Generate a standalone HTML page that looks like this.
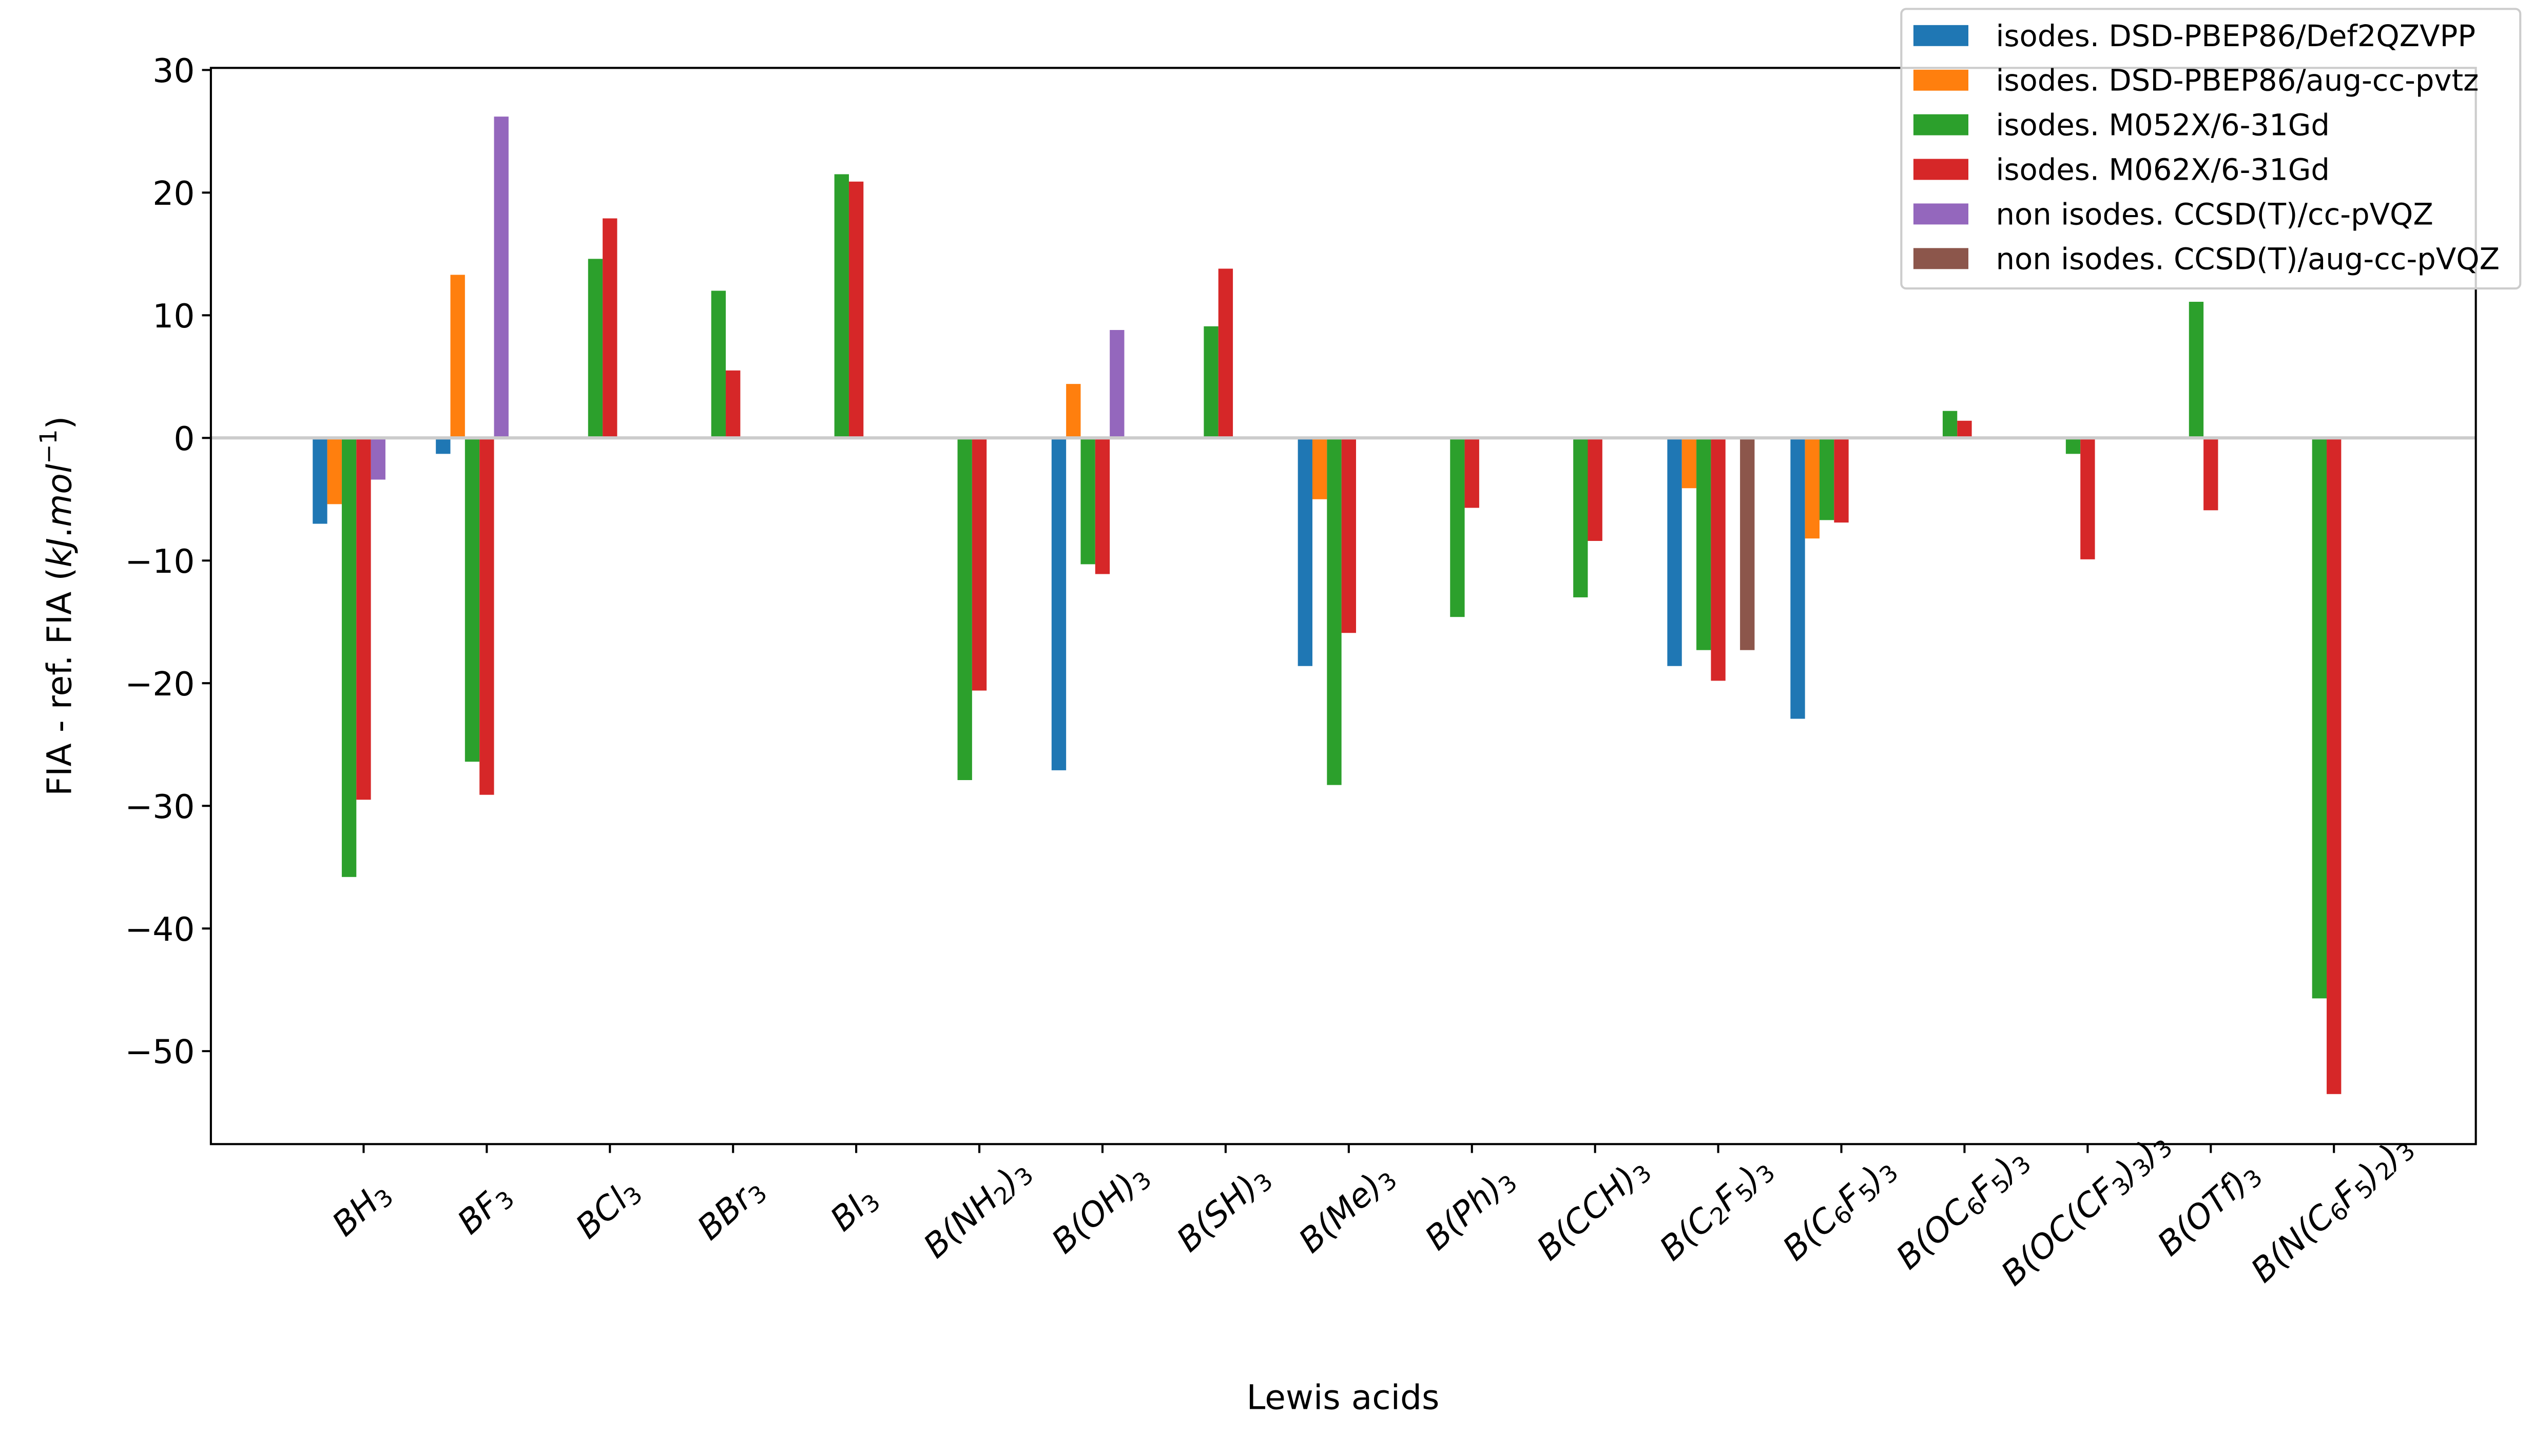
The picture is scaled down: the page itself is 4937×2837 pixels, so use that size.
<!DOCTYPE html>
<html><head><meta charset="utf-8"><style>
html,body{margin:0;padding:0;background:#fff;}
svg{display:block;}
text{font-family:"DejaVu Sans","Liberation Sans",sans-serif;fill:#000;}
</style></head><body>
<svg id="chart" width="4937" height="2837" viewBox="0 0 1568 901" xmlns="http://www.w3.org/2000/svg">
<rect x="0" y="0" width="1568" height="901" fill="#fff"/>
<g id="bars"></g>
<line x1="130.5" x2="1532" y1="271" y2="271" stroke="#cccccc" stroke-width="2" id="zeroline"/>
<rect x="130.5" y="42" width="1401.5" height="666" fill="none" stroke="#000" stroke-width="1.3"/>
<g id="yticks"></g>
<g id="xticks"></g>
<text x="831" y="872" font-size="21" text-anchor="middle">Lewis acids</text>
<text transform="translate(44,375) rotate(-90)" font-size="21" text-anchor="middle">FIA - ref. FIA (<tspan font-style="italic">kJ</tspan>.<tspan font-style="italic">mol</tspan><tspan font-size="14.5" dy="-9">−1</tspan><tspan dy="9">)</tspan></text>
<g id="legend"></g>
</svg>
<script>
const categories = ["BH|3","BF|3","BCl|3","BBr|3","BI|3","B(NH|2|)|3","B(OH)|3","B(SH)|3","B(Me)|3","B(Ph)|3","B(CCH)|3","B(C|2|F|5|)|3","B(C|6|F|5|)|3","B(OC|6|F|5|)|3","B(OC(CF|3|)|3|)|3","B(OTf)|3","B(N(C|6|F|5|)|2|)|3"];
const seriesNames = ["isodes. DSD-PBEP86/Def2QZVPP","isodes. DSD-PBEP86/aug-cc-pvtz","isodes. M052X/6-31Gd","isodes. M062X/6-31Gd","non isodes. CCSD(T)/cc-pVQZ","non isodes. CCSD(T)/aug-cc-pVQZ"];
const seriesColors = ["#1f77b4","#ff7f0e","#2ca02c","#d62728","#9467bd","#8c564b"];
const dsdDef2 = [-7.0,-1.3,null,null,null,null,-27.1,null,-18.6,null,null,-18.6,-22.9,null,null,null,null];
const dsdAug = [-5.4,13.3,null,null,null,null,4.4,null,-5.0,null,null,-4.1,-8.2,null,null,null,null];
const m052x = [-35.8,-26.4,14.6,12.0,21.5,-27.9,-10.3,9.1,-28.3,-14.6,-13.0,-17.3,-6.7,2.2,-1.3,11.1,-45.7];
const m062x = [-29.5,-29.1,17.9,5.5,20.9,-20.6,-11.1,13.8,-15.9,-5.7,-8.4,-19.8,-6.9,1.4,-9.9,-5.9,-53.5];
const ccsdVQZ = [-3.4,26.2,null,null,null,null,8.8,null,null,null,null,null,null,null,null,null,null];
const ccsdAugVQZ = [null,null,null,null,null,null,null,null,null,null,null,-17.3,null,null,null,null,null];
const yTicks = [30,20,10,0,-10,-20,-30,-40,-50];

const NS="http://www.w3.org/2000/svg";
const series=[dsdDef2,dsdAug,m052x,m062x,ccsdVQZ,ccsdAugVQZ];
const X0=130.5,X1=1532,Y0=42,Y1=708;
const yMin=-57.58,yMax=30.17;
function yScale(v){return Y1-(v-yMin)/(yMax-yMin)*(Y1-Y0);}
const step=76.2, first=225;
function xScale(i){return first+i*step;}
const barW=9;
function mk(tag,attrs,parent){const e=document.createElementNS(NS,tag);for(const k in attrs)e.setAttribute(k,attrs[k]);parent.appendChild(e);return e;}

const gb=document.getElementById('bars');
series.forEach((s,k)=>{
  s.forEach((v,i)=>{
    if(v===null)return;
    const cx=xScale(i)+(k-3)*barW;
    const y0=yScale(0),y=yScale(v);
    const r=mk('rect',{x:cx-barW/2,y:Math.min(y0,y),width:barW,height:Math.abs(y-y0),fill:seriesColors[k]},gb);
    
    
  });
});
document.getElementById('zeroline').setAttribute('y1',yScale(0));
document.getElementById('zeroline').setAttribute('y2',yScale(0));

const gy=document.getElementById('yticks');
yTicks.forEach(t=>{
  const y=yScale(t);
  const l=mk('line',{x1:X0-5.5,x2:X0,y1:y,y2:y,stroke:'#000','stroke-width':1.3},gy);
  
  
  const tx=mk('text',{x:X0-10,y:y+7.5,'font-size':20.5,'text-anchor':'end'},gy);
  tx.textContent=(t<0?'\u2212':'')+Math.abs(t);
  
  
});

const gx=document.getElementById('xticks');
categories.forEach((c,i)=>{
  const x=xScale(i);
  const l=mk('line',{x1:x,x2:x,y1:Y1,y2:Y1+5.5,stroke:'#000','stroke-width':1.3},gx);
  
  
  const t=mk('text',{'font-size':20.5,'font-style':'italic','text-anchor':'middle','transform':'translate('+(x+3)+','+(Y1+45)+') rotate(-42)'},gx);
  
  
  const parts=c.split('|');
  parts.forEach((p,j)=>{
    const sp=mk('tspan',{},t);
    if(j%2===1){sp.setAttribute('font-size','14.5');sp.setAttribute('font-style','normal');sp.setAttribute('dy','3');}
    else if(j>0){sp.setAttribute('dy','-3');}
    sp.textContent=p;
  });
});

const gl=document.getElementById('legend');
const lb=mk('rect',{x:1176.5,y:5.5,width:383,height:173,rx:3,fill:'#fff','fill-opacity':0.8,stroke:'#cccccc','stroke-width':1.3},gl);


seriesNames.forEach((n,k)=>{
  const y=22+k*27.6;
  const r=mk('rect',{x:1184,y:y-6.5,width:34,height:13,fill:seriesColors[k]},gl);
  
  
  const t=mk('text',{x:1235,y:y+6.5,'font-size':18.3},gl);
  t.textContent=n;
  
  
});
</script>
</body></html>
